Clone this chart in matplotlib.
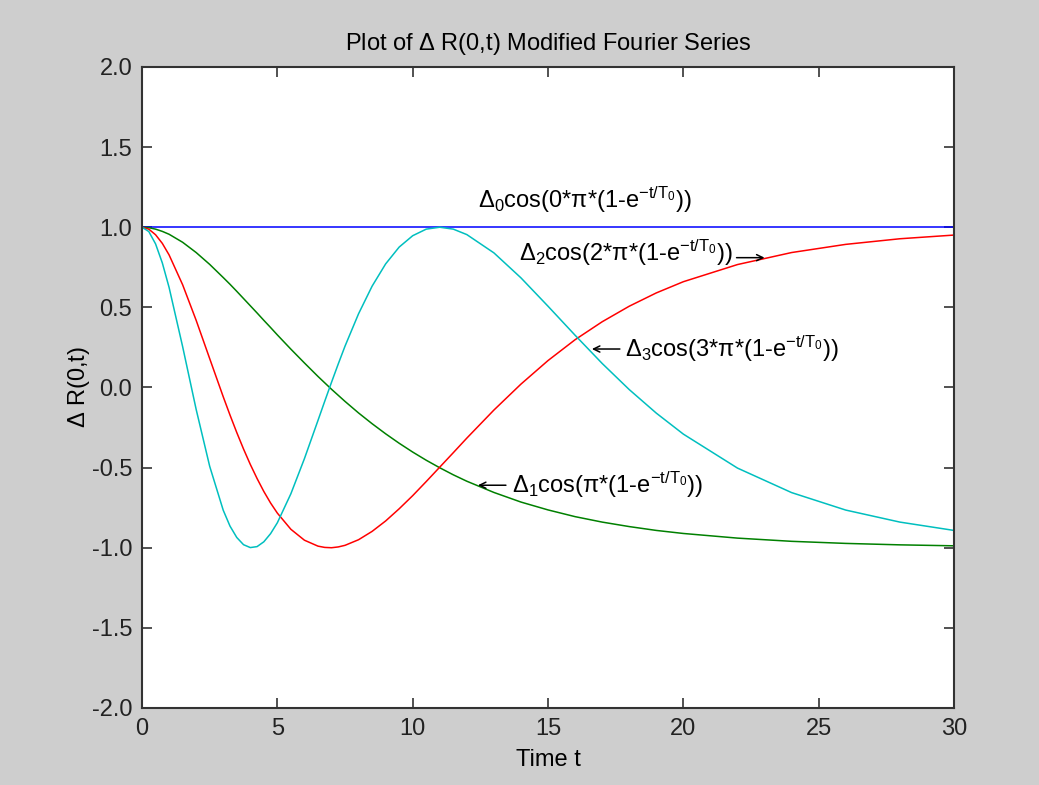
import matplotlib
matplotlib.use("Agg")
import matplotlib.pyplot as plt

plt.rcParams['font.family'] = ['Liberation Sans', 'DejaVu Sans']
plt.rcParams['mathtext.fontset'] = 'custom'
plt.rcParams['mathtext.rm'] = 'Liberation Sans'
plt.rcParams['mathtext.it'] = 'Liberation Sans'
plt.rcParams['mathtext.default'] = 'regular'

# time samples and values
t = [0, 0.25, 0.5, 0.75, 1, 1.5, 2, 2.5, 3, 3.25, 3.5, 3.75, 4, 4.25, 4.5, 4.75, 5, 5.5,
     6, 6.5, 6.75, 7, 7.25, 7.5, 8, 8.5, 9, 9.5, 10, 10.5, 11, 11.5,
     12, 13, 14, 15, 16, 17, 18, 19, 20, 22, 24, 26, 28, 30]
r0 = [1.0] * len(t)
r1 = [1.0, 0.997, 0.988, 0.974, 0.956, 0.906, 0.842, 0.768, 0.686, 0.644, 0.600, 0.555,
      0.510, 0.465, 0.419, 0.374, 0.328, 0.239,
      0.153, 0.069, 0.029, -0.011, -0.049, -0.087, -0.159, -0.226, -0.289, -0.348,
      -0.403, -0.454, -0.501, -0.545,
      -0.585, -0.655, -0.715, -0.764, -0.806, -0.840, -0.868, -0.892, -0.911,
      -0.940, -0.960, -0.973, -0.982, -0.988]
r2 = [1.0, 0.988, 0.953, 0.899, 0.827, 0.641, 0.419, 0.180, -0.058, -0.172, -0.281, -0.384,
      -0.480, -0.568, -0.649, -0.721, -0.784, -0.885,
      -0.953, -0.990, -0.998, -1.000, -0.995, -0.985, -0.950, -0.898, -0.833, -0.757,
      -0.675, -0.587, -0.497, -0.407,
      -0.316, -0.141, 0.021, 0.168, 0.298, 0.410, 0.507, 0.590, 0.660,
      0.767, 0.842, 0.893, 0.928, 0.951]
r3 = [1.0, 0.973, 0.896, 0.777, 0.624, 0.255, -0.137, -0.492, -0.766, -0.865, -0.936, -0.981,
      -0.999, -0.993, -0.963, -0.912, -0.844, -0.663,
      -0.444, -0.206, -0.086, 0.032, 0.147, 0.258, 0.460, 0.632, 0.771, 0.876,
      0.947, 0.988, 1.000, 0.988,
      0.954, 0.840, 0.684, 0.507, 0.326, 0.150, -0.013, -0.160, -0.291,
      -0.503, -0.656, -0.765, -0.840, -0.892]

xticks = [0, 5, 10, 15, 20, 25, 30]
yticks = [-2.0, -1.5, -1.0, -0.5, 0.0, 0.5, 1.0, 1.5, 2.0]

# label text (left edge, middle)
labels = [
    (12.41, 1.17, r'$\Delta_0$cos(0*$\pi$*(1-e$^{-t/T_0}$))'),
    (13.93, 0.84, r'$\Delta_2$cos(2*$\pi$*(1-e$^{-t/T_0}$))'),
    (17.85, 0.24, r'$\Delta_3$cos(3*$\pi$*(1-e$^{-t/T_0}$))'),
    (13.67, -0.61, r'$\Delta_1$cos($\pi$*(1-e$^{-t/T_0}$))'),
]
# arrow tips on the curves, and which side the tail is (pixels)
arrows = [
    (23.0, 0.81, -28),
    (16.62, 0.24, 28),
    (12.41, -0.61, 28),
]

fig = plt.figure(figsize=(10.39, 7.85), dpi=100, facecolor='#cecece')
ax = fig.add_axes([0.1367, 0.0981, 0.7815, 0.8166])
ax.set_facecolor('white')

ax.plot(t, r0, color='#0000ff', lw=1.1)
ax.plot(t, r1, color='#008000', lw=1.1)
ax.plot(t, r2, color='#ff0000', lw=1.1)
ax.plot(t, r3, color='#00bfbf', lw=1.1)

for x, y, s in labels:
    ax.text(x, y, s, fontsize=17, ha='left', va='center', color='black')

for x, y, dx in arrows:
    ax.annotate('', xy=(x, y), xytext=(dx, 0), textcoords='offset pixels',
                arrowprops=dict(arrowstyle='->,head_length=0.45,head_width=0.22',
                                lw=1.1, color='black', shrinkA=0, shrinkB=0))

ax.set_xlim(0, 30)
ax.set_ylim(-2, 2)
ax.set_xticks(xticks)
ax.set_xticklabels([str(v) for v in xticks])
ax.set_yticks(yticks)
ax.set_yticklabels([f'{v:.1f}' for v in yticks])
ax.tick_params(direction='in', length=7, width=1.2, top=True, right=True,
               labelsize=17, pad=7, color='#333333', labelcolor='#222222')
for sp in ax.spines.values():
    sp.set_linewidth(1.5)
    sp.set_color('#333333')

ax.set_title(r'Plot of $\Delta$ R(0,t) Modified Fourier Series', fontsize=17, pad=12)
ax.set_xlabel('Time t', fontsize=17, labelpad=7)
ax.set_ylabel(r'$\Delta$ R(0,t)', fontsize=17, labelpad=0)

fig.savefig('out.png', dpi=100, facecolor=fig.get_facecolor())
